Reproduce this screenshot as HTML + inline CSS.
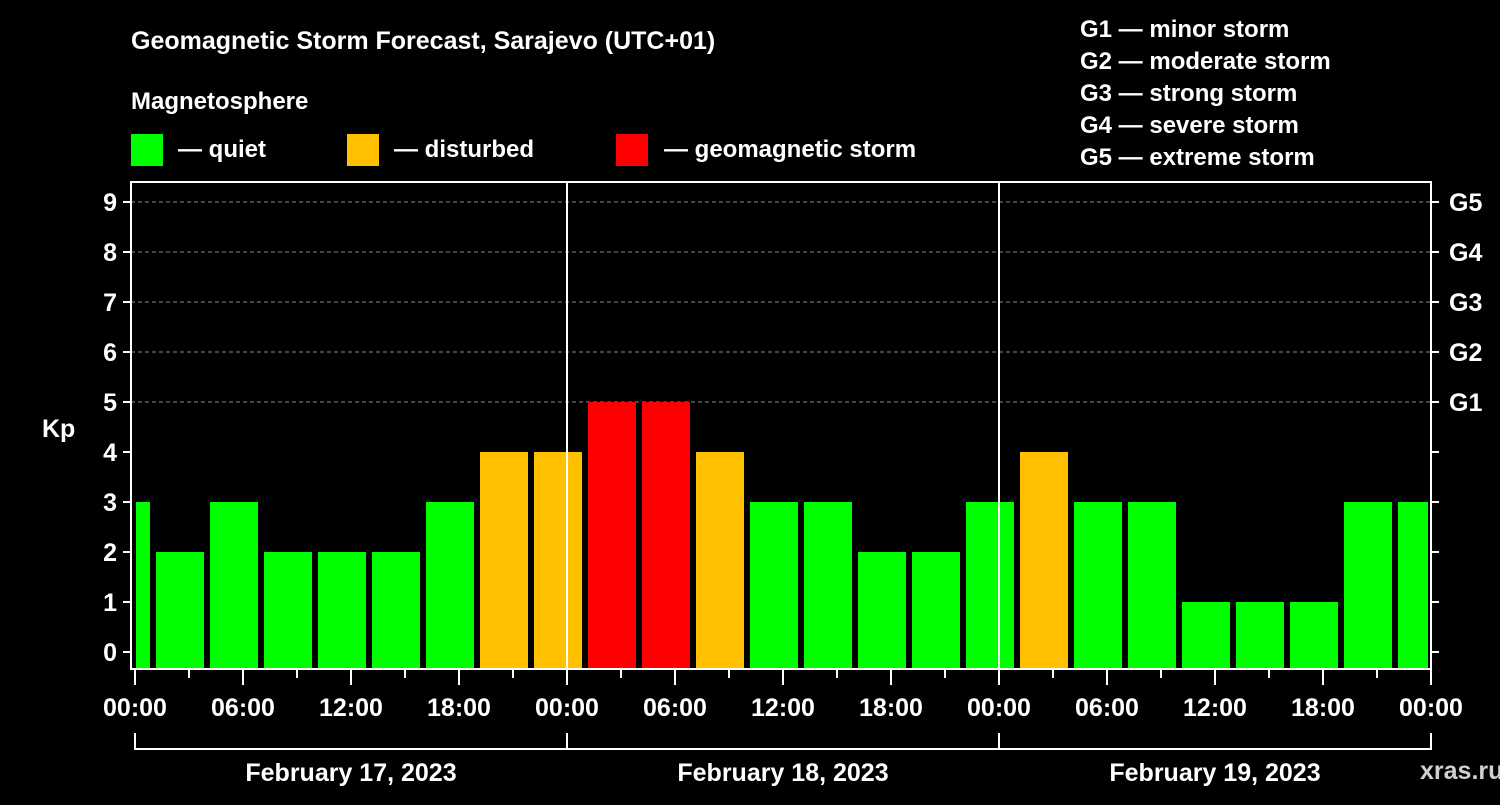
<!DOCTYPE html>
<html><head><meta charset="utf-8"><style>
body{margin:0;background:#000;width:1500px;height:800px;overflow:hidden}
svg text{font-family:"Liberation Sans",Arial,sans-serif;font-weight:bold;fill:#fff}
</style></head><body>
<svg id="chart" width="1500" height="800">
<text x="131" y="49" font-size="25">Geomagnetic Storm Forecast, Sarajevo (UTC+01)</text>
<text x="131" y="109" font-size="24">Magnetosphere</text>
<rect x="131" y="134" width="32" height="32" fill="#00ff00"/>
<text x="178" y="157" font-size="24">— quiet</text>
<rect x="347" y="134" width="32" height="32" fill="#ffc000"/>
<text x="394" y="157" font-size="24">— disturbed</text>
<rect x="616" y="134" width="32" height="32" fill="#ff0000"/>
<text x="664" y="157" font-size="24">— geomagnetic storm</text>
<g font-size="24">
<text x="1080" y="37">G1 — minor storm</text>
<text x="1080" y="69">G2 — moderate storm</text>
<text x="1080" y="101">G3 — strong storm</text>
<text x="1080" y="133">G4 — severe storm</text>
<text x="1080" y="165">G5 — extreme storm</text>
</g>
<text x="42" y="437" font-size="25">Kp</text>
<text x="1420" y="779" font-size="25" fill="#ccc" style="fill:#d0d0d0">xras.ru</text>
<g id="grid"></g><g id="bars"></g><g id="axes"></g>
</svg>
<script>
const kpValues=[3,2,3,2,2,2,3,4,4,5,5,4,3,3,2,2,3,4,3,3,1,1,1,3,3];
const startHours=[-2,1,4,7,10,13,16,19,22,25,28,31,34,37,40,43,46,49,52,55,58,61,64,67,70];
const yTicks=[0,1,2,3,4,5,6,7,8,9];
const gLabels=["G1","G2","G3","G4","G5"];
const xTickLabels=["00:00","06:00","12:00","18:00","00:00","06:00","12:00","18:00","00:00","06:00","12:00","18:00","00:00"];
const dayLabels=["February 17, 2023","February 18, 2023","February 19, 2023"];
const NS="http://www.w3.org/2000/svg";
const L=131,R=1431,T=182,B=669,X0=135,PXH=18;
const x=h=>X0+h*PXH;
const y=v=>652-v*50;
function mk(tag,attrs,parent){const e=document.createElementNS(NS,tag);for(const k in attrs)e.setAttribute(k,attrs[k]);document.getElementById(parent).appendChild(e);return e;}
const col=v=>v>=5?"#ff0000":v>=4?"#ffc000":"#00ff00";
// grid
yTicks.forEach(v=>{if(v>=5){const g=mk("line",{x1:L,x2:R,y1:y(v),y2:y(v),stroke:"#888","stroke-dasharray":"4,3","stroke-width":1},"grid");

}});
// bars
kpValues.forEach((v,i)=>{let a=x(startHours[i])+3,b=x(startHours[i]+3)-3;a=Math.max(a,X0+1);b=Math.min(b,R-3);
const r=mk("rect",{x:a,y:y(v),width:b-a,height:B-y(v),fill:col(v)},"bars");

});
// day separators
[1,2].forEach(d=>{const l=mk("line",{x1:x(24*d),x2:x(24*d),y1:T,y2:B,stroke:"#fff","stroke-width":2},"axes");

});
const fr=mk("rect",{x:L,y:T,width:R-L,height:B-T,fill:"none",stroke:"#fff","stroke-width":2},"axes");


yTicks.forEach(v=>{mk("line",{x1:L-8,x2:L,y1:y(v),y2:y(v),stroke:"#fff","stroke-width":2},"axes");
mk("line",{x1:R,x2:R+8,y1:y(v),y2:y(v),stroke:"#fff","stroke-width":2},"axes");
const t=mk("text",{x:L-14,y:y(v)+9,"font-size":25,"text-anchor":"end"},"axes");t.textContent=v;

});
gLabels.forEach((g,i)=>{const t=mk("text",{x:1449,y:y(5+i)+9,"font-size":25},"axes");t.textContent=g;

});
for(let h=0;h<=72;h+=3){const major=h%6===0;mk("line",{x1:x(h),x2:x(h),y1:B,y2:B+(major?16:9),stroke:"#fff","stroke-width":2},"axes");}
xTickLabels.forEach((s,i)=>{const t=mk("text",{x:x(i*6),y:716,"font-size":25,"text-anchor":"middle"},"axes");t.textContent=s;

});
mk("line",{x1:X0,x2:R,y1:749,y2:749,stroke:"#fff","stroke-width":2},"axes");
[0,1,2,3].forEach(d=>mk("line",{x1:x(24*d),x2:x(24*d),y1:733,y2:750,stroke:"#fff","stroke-width":2},"axes"));
dayLabels.forEach((s,i)=>{const t=mk("text",{x:x(24*i+12),y:781,"font-size":25,"text-anchor":"middle"},"axes");t.textContent=s;

});
</script>
</body></html>
